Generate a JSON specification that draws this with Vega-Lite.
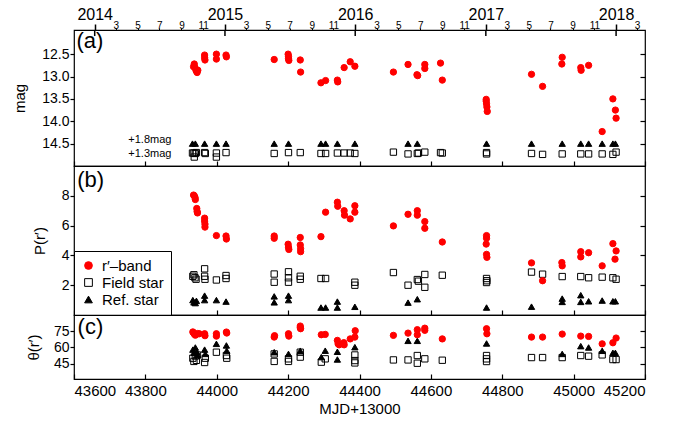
{
"$schema": "https://vega.github.io/schema/vega-lite/v6.json",
"background": "white",
"padding": {"left": 11, "top": 5, "right": 5, "bottom": 5},
"spacing": 0,
"bounds": "flush",
"config": {
  "font": "Liberation Sans",
  "view": {"stroke": "black", "strokeWidth": 1.2},
  "axis": {"domain": false, "grid": false, "tickColor": "black", "labelColor": "black", "titleColor": "black", "labelFontSize": 14, "titleFontSize": 15, "titleFontWeight": "normal", "tickWidth": 1.2},
  "point": {"opacity": 1},
  "text": {"font": "Liberation Sans", "color": "black"}
},
"datasets": {
  "mag": [
    {"t":"Ref. star","x":43932,"y":14.5},{"t":"Ref. star","x":43940,"y":14.5},{"t":"Ref. star","x":43966,"y":14.5},{"t":"Ref. star","x":43999,"y":14.5},{"t":"Ref. star","x":44026,"y":14.5},{"t":"Ref. star","x":44161,"y":14.5},{"t":"Ref. star","x":44201,"y":14.5},{"t":"Ref. star","x":44292,"y":14.5},{"t":"Ref. star","x":44305,"y":14.5},{"t":"Ref. star","x":44338,"y":14.5},{"t":"Ref. star","x":44387,"y":14.5},{"t":"Ref. star","x":44536,"y":14.5},{"t":"Ref. star","x":44562,"y":14.5},{"t":"Ref. star","x":44756,"y":14.5},{"t":"Ref. star","x":44882,"y":14.5},{"t":"Ref. star","x":44968,"y":14.5},{"t":"Ref. star","x":45020,"y":14.5},{"t":"Ref. star","x":45042,"y":14.5},{"t":"Ref. star","x":45080,"y":14.5},{"t":"Ref. star","x":45110,"y":14.5},{"t":"Ref. star","x":45117,"y":14.5},
    {"t":"Field star","x":43932,"y":14.71},{"t":"Field star","x":43936,"y":14.71},{"t":"Field star","x":43940,"y":14.72},{"t":"Field star","x":43943,"y":14.7},{"t":"Field star","x":43937,"y":14.8},{"t":"Field star","x":43966,"y":14.7},{"t":"Field star","x":43968,"y":14.72},{"t":"Field star","x":43999,"y":14.71},{"t":"Field star","x":43999,"y":14.8},{"t":"Field star","x":44026,"y":14.7},{"t":"Field star","x":44161,"y":14.72},{"t":"Field star","x":44201,"y":14.7},{"t":"Field star","x":44234,"y":14.7},{"t":"Field star","x":44292,"y":14.72},{"t":"Field star","x":44305,"y":14.72},{"t":"Field star","x":44338,"y":14.71},{"t":"Field star","x":44357,"y":14.71},{"t":"Field star","x":44374,"y":14.71},{"t":"Field star","x":44387,"y":14.72},
    {"t":"Field star","x":44495,"y":14.69},{"t":"Field star","x":44536,"y":14.73},{"t":"Field star","x":44562,"y":14.72},{"t":"Field star","x":44565,"y":14.71},{"t":"Field star","x":44583,"y":14.69},{"t":"Field star","x":44627,"y":14.7},{"t":"Field star","x":44632,"y":14.71},{"t":"Field star","x":44756,"y":14.7},{"t":"Field star","x":44756,"y":14.73},{"t":"Field star","x":44882,"y":14.72},{"t":"Field star","x":44913,"y":14.74},{"t":"Field star","x":44968,"y":14.73},{"t":"Field star","x":45020,"y":14.73},{"t":"Field star","x":45042,"y":14.73},{"t":"Field star","x":45080,"y":14.73},{"t":"Field star","x":45110,"y":14.74},{"t":"Field star","x":45119,"y":14.69},
    {"t":"r′–band","x":43935,"y":12.78},{"t":"r′–band","x":43937,"y":12.72},{"t":"r′–band","x":43939,"y":12.8},{"t":"r′–band","x":43941,"y":12.84},{"t":"r′–band","x":43943,"y":12.88},{"t":"r′–band","x":43945,"y":12.91},{"t":"r′–band","x":43947,"y":12.86},
    {"t":"r′–band","x":43966,"y":12.52},{"t":"r′–band","x":43966,"y":12.58},{"t":"r′–band","x":43967,"y":12.63},{"t":"r′–band","x":43999,"y":12.5},{"t":"r′–band","x":43999,"y":12.61},{"t":"r′–band","x":44026,"y":12.52},{"t":"r′–band","x":44027,"y":12.56},
    {"t":"r′–band","x":44161,"y":12.62},{"t":"r′–band","x":44200,"y":12.5},{"t":"r′–band","x":44201,"y":12.55},{"t":"r′–band","x":44201,"y":12.6},{"t":"r′–band","x":44202,"y":12.64},{"t":"r′–band","x":44234,"y":12.63},{"t":"r′–band","x":44235,"y":12.9},
    {"t":"r′–band","x":44292,"y":13.14},{"t":"r′–band","x":44305,"y":13.09},{"t":"r′–band","x":44338,"y":13.08},{"t":"r′–band","x":44339,"y":13.12},{"t":"r′–band","x":44357,"y":12.8},{"t":"r′–band","x":44374,"y":12.67},{"t":"r′–band","x":44387,"y":12.77},
    {"t":"r′–band","x":44495,"y":12.9},{"t":"r′–band","x":44536,"y":12.73},{"t":"r′–band","x":44561,"y":12.96},{"t":"r′–band","x":44563,"y":12.98},{"t":"r′–band","x":44583,"y":12.73},{"t":"r′–band","x":44583,"y":12.82},{"t":"r′–band","x":44627,"y":12.7},{"t":"r′–band","x":44632,"y":13.08},
    {"t":"r′–band","x":44755,"y":13.51},{"t":"r′–band","x":44755,"y":13.55},{"t":"r′–band","x":44756,"y":13.61},{"t":"r′–band","x":44757,"y":13.68},{"t":"r′–band","x":44758,"y":13.78},
    {"t":"r′–band","x":44882,"y":12.95},{"t":"r′–band","x":44913,"y":13.22},{"t":"r′–band","x":44968,"y":12.57},{"t":"r′–band","x":44967,"y":12.72},{"t":"r′–band","x":45020,"y":12.8},{"t":"r′–band","x":45021,"y":12.86},{"t":"r′–band","x":45042,"y":12.75},{"t":"r′–band","x":45080,"y":14.23},{"t":"r′–band","x":45110,"y":13.5},{"t":"r′–band","x":45117,"y":13.75},{"t":"r′–band","x":45119,"y":13.93}
  ],
  "pol": [
    {"t":"Ref. star","x":43933,"y":1.0},{"t":"Ref. star","x":43936,"y":0.85},{"t":"Ref. star","x":43940,"y":0.8},{"t":"Ref. star","x":43943,"y":0.95},{"t":"Ref. star","x":43966,"y":1.3},{"t":"Ref. star","x":43966,"y":1.0},{"t":"Ref. star","x":43999,"y":1.0},{"t":"Ref. star","x":44026,"y":0.9},{"t":"Ref. star","x":44161,"y":1.25},{"t":"Ref. star","x":44161,"y":0.85},{"t":"Ref. star","x":44201,"y":1.3},{"t":"Ref. star","x":44201,"y":1.0},{"t":"Ref. star","x":44292,"y":0.5},{"t":"Ref. star","x":44305,"y":0.5},{"t":"Ref. star","x":44338,"y":0.9},{"t":"Ref. star","x":44338,"y":0.5},{"t":"Ref. star","x":44387,"y":0.55},
    {"t":"Ref. star","x":44536,"y":0.83},{"t":"Ref. star","x":44562,"y":1.06},{"t":"Ref. star","x":44756,"y":0.5},{"t":"Ref. star","x":44882,"y":0.56},{"t":"Ref. star","x":44968,"y":1.1},{"t":"Ref. star","x":44968,"y":0.88},{"t":"Ref. star","x":45020,"y":1.33},{"t":"Ref. star","x":45020,"y":0.88},{"t":"Ref. star","x":45042,"y":0.92},{"t":"Ref. star","x":45080,"y":0.97},{"t":"Ref. star","x":45110,"y":0.92},{"t":"Ref. star","x":45117,"y":0.92},
    {"t":"Field star","x":43933,"y":2.6},{"t":"Field star","x":43936,"y":2.7},{"t":"Field star","x":43939,"y":2.5},{"t":"Field star","x":43942,"y":2.4},{"t":"Field star","x":43966,"y":3.1},{"t":"Field star","x":43966,"y":2.6},{"t":"Field star","x":43967,"y":2.4},{"t":"Field star","x":43999,"y":2.35},{"t":"Field star","x":44026,"y":2.65},{"t":"Field star","x":44026,"y":2.45},{"t":"Field star","x":44161,"y":2.75},{"t":"Field star","x":44161,"y":2.2},{"t":"Field star","x":44201,"y":2.9},{"t":"Field star","x":44201,"y":2.5},{"t":"Field star","x":44201,"y":2.2},{"t":"Field star","x":44234,"y":2.6},{"t":"Field star","x":44234,"y":2.4},{"t":"Field star","x":44292,"y":2.45},{"t":"Field star","x":44305,"y":2.45},{"t":"Field star","x":44387,"y":2.2},{"t":"Field star","x":44387,"y":2.0},
    {"t":"Field star","x":44495,"y":2.85},{"t":"Field star","x":44536,"y":2.0},{"t":"Field star","x":44562,"y":2.38},{"t":"Field star","x":44565,"y":2.27},{"t":"Field star","x":44583,"y":2.72},{"t":"Field star","x":44583,"y":1.86},{"t":"Field star","x":44632,"y":2.67},{"t":"Field star","x":44756,"y":2.45},{"t":"Field star","x":44757,"y":2.3},{"t":"Field star","x":44756,"y":2.18},{"t":"Field star","x":44882,"y":2.88},{"t":"Field star","x":44913,"y":2.74},{"t":"Field star","x":44968,"y":2.58},{"t":"Field star","x":45020,"y":2.58},{"t":"Field star","x":45042,"y":2.5},{"t":"Field star","x":45080,"y":2.54},{"t":"Field star","x":45110,"y":2.5},{"t":"Field star","x":45119,"y":2.4},
    {"t":"r′–band","x":43935,"y":8.05},{"t":"r′–band","x":43937,"y":8.0},{"t":"r′–band","x":43939,"y":7.9},{"t":"r′–band","x":43940,"y":7.75},{"t":"r′–band","x":43944,"y":7.15},{"t":"r′–band","x":43945,"y":6.95},{"t":"r′–band","x":43946,"y":6.85},
    {"t":"r′–band","x":43966,"y":6.5},{"t":"r′–band","x":43966,"y":6.3},{"t":"r′–band","x":43967,"y":6.1},{"t":"r′–band","x":43967,"y":5.9},{"t":"r′–band","x":43999,"y":5.33},{"t":"r′–band","x":44026,"y":5.3},{"t":"r′–band","x":44027,"y":5.1},
    {"t":"r′–band","x":44161,"y":5.3},{"t":"r′–band","x":44161,"y":5.15},{"t":"r′–band","x":44200,"y":4.75},{"t":"r′–band","x":44201,"y":4.55},{"t":"r′–band","x":44202,"y":4.4},{"t":"r′–band","x":44234,"y":5.2},{"t":"r′–band","x":44234,"y":4.7},{"t":"r′–band","x":44235,"y":4.45},{"t":"r′–band","x":44235,"y":4.25},
    {"t":"r′–band","x":44292,"y":5.26},{"t":"r′–band","x":44305,"y":6.9},{"t":"r′–band","x":44338,"y":7.57},{"t":"r′–band","x":44339,"y":7.3},{"t":"r′–band","x":44357,"y":7.0},{"t":"r′–band","x":44358,"y":6.7},{"t":"r′–band","x":44374,"y":6.45},{"t":"r′–band","x":44387,"y":7.33},{"t":"r′–band","x":44387,"y":6.9},
    {"t":"r′–band","x":44495,"y":5.98},{"t":"r′–band","x":44536,"y":6.76},{"t":"r′–band","x":44562,"y":7.0},{"t":"r′–band","x":44562,"y":6.7},{"t":"r′–band","x":44583,"y":6.27},{"t":"r′–band","x":44583,"y":5.82},{"t":"r′–band","x":44632,"y":4.9},
    {"t":"r′–band","x":44756,"y":5.33},{"t":"r′–band","x":44756,"y":5.15},{"t":"r′–band","x":44755,"y":4.76},{"t":"r′–band","x":44756,"y":4.07},{"t":"r′–band","x":44757,"y":3.87},
    {"t":"r′–band","x":44882,"y":3.5},{"t":"r′–band","x":44913,"y":2.3},{"t":"r′–band","x":44967,"y":3.52},{"t":"r′–band","x":44968,"y":3.3},{"t":"r′–band","x":45020,"y":4.25},{"t":"r′–band","x":45020,"y":3.9},{"t":"r′–band","x":45042,"y":4.18},{"t":"r′–band","x":45080,"y":3.3},{"t":"r′–band","x":45110,"y":4.79},{"t":"r′–band","x":45119,"y":4.3},{"t":"r′–band","x":45116,"y":3.75}
  ],
  "ang": [
    {"t":"Ref. star","x":43933,"y":58},{"t":"Ref. star","x":43936,"y":55},{"t":"Ref. star","x":43940,"y":60},{"t":"Ref. star","x":43944,"y":56},{"t":"Ref. star","x":43947,"y":53},{"t":"Ref. star","x":43966,"y":58},{"t":"Ref. star","x":43968,"y":54},{"t":"Ref. star","x":43999,"y":63.4},{"t":"Ref. star","x":44027,"y":61.9},{"t":"Ref. star","x":44028,"y":57},{"t":"Ref. star","x":44161,"y":55.6},{"t":"Ref. star","x":44201,"y":54},{"t":"Ref. star","x":44234,"y":57},{"t":"Ref. star","x":44293,"y":51},{"t":"Ref. star","x":44304,"y":57},{"t":"Ref. star","x":44338,"y":56},{"t":"Ref. star","x":44338,"y":48.8},{"t":"Ref. star","x":44387,"y":60.3},
    {"t":"Ref. star","x":44536,"y":66.2},{"t":"Ref. star","x":44562,"y":66.2},{"t":"Ref. star","x":44756,"y":63.75},{"t":"Ref. star","x":44968,"y":54},{"t":"Ref. star","x":45020,"y":61.25},{"t":"Ref. star","x":45042,"y":60},{"t":"Ref. star","x":45080,"y":56.9},{"t":"Ref. star","x":45110,"y":55},{"t":"Ref. star","x":45117,"y":55},
    {"t":"Field star","x":43933,"y":50},{"t":"Field star","x":43936,"y":47},{"t":"Field star","x":43940,"y":52},{"t":"Field star","x":43943,"y":48},{"t":"Field star","x":43946,"y":53},{"t":"Field star","x":43966,"y":46},{"t":"Field star","x":43968,"y":50},{"t":"Field star","x":43999,"y":55.6},{"t":"Field star","x":44027,"y":52.5},{"t":"Field star","x":44028,"y":50},{"t":"Field star","x":44161,"y":54},{"t":"Field star","x":44161,"y":47},{"t":"Field star","x":44201,"y":49.4},{"t":"Field star","x":44201,"y":47},{"t":"Field star","x":44234,"y":55.6},{"t":"Field star","x":44234,"y":51},{"t":"Field star","x":44293,"y":46.3},{"t":"Field star","x":44304,"y":49.4},{"t":"Field star","x":44387,"y":53},{"t":"Field star","x":44387,"y":47.8},{"t":"Field star","x":44387,"y":45.6},
    {"t":"Field star","x":44495,"y":48.4},{"t":"Field star","x":44536,"y":48.4},{"t":"Field star","x":44562,"y":52.5},{"t":"Field star","x":44562,"y":45.3},{"t":"Field star","x":44583,"y":49.4},{"t":"Field star","x":44632,"y":48.1},{"t":"Field star","x":44756,"y":52.5},{"t":"Field star","x":44756,"y":49.4},{"t":"Field star","x":44756,"y":46.9},{"t":"Field star","x":44882,"y":50.6},{"t":"Field star","x":44913,"y":50.6},{"t":"Field star","x":44968,"y":50.6},{"t":"Field star","x":45020,"y":52.5},{"t":"Field star","x":45042,"y":51.9},{"t":"Field star","x":45080,"y":53.1},{"t":"Field star","x":45110,"y":48.75},{"t":"Field star","x":45119,"y":48.75},
    {"t":"r′–band","x":43933,"y":74.5},{"t":"r′–band","x":43935,"y":73.7},{"t":"r′–band","x":43937,"y":72.5},{"t":"r′–band","x":43940,"y":71.5},{"t":"r′–band","x":43942,"y":72.2},{"t":"r′–band","x":43946,"y":73},{"t":"r′–band","x":43951,"y":72.8},{"t":"r′–band","x":43966,"y":72.8},{"t":"r′–band","x":43967,"y":71},{"t":"r′–band","x":43999,"y":72.8},{"t":"r′–band","x":43999,"y":70.6},{"t":"r′–band","x":44027,"y":74.4},{"t":"r′–band","x":44028,"y":73.5},
    {"t":"r′–band","x":44161,"y":69.7},{"t":"r′–band","x":44162,"y":71},{"t":"r′–band","x":44201,"y":72.8},{"t":"r′–band","x":44202,"y":70.6},{"t":"r′–band","x":44234,"y":80},{"t":"r′–band","x":44234,"y":78.5},{"t":"r′–band","x":44235,"y":77.5},
    {"t":"r′–band","x":44293,"y":71.9},{"t":"r′–band","x":44304,"y":72.2},{"t":"r′–band","x":44338,"y":66.6},{"t":"r′–band","x":44340,"y":63.4},{"t":"r′–band","x":44343,"y":62.5},{"t":"r′–band","x":44357,"y":62.5},{"t":"r′–band","x":44356,"y":64.5},{"t":"r′–band","x":44374,"y":68},{"t":"r′–band","x":44387,"y":69.7},{"t":"r′–band","x":44388,"y":75.6},
    {"t":"r′–band","x":44495,"y":71.3},{"t":"r′–band","x":44536,"y":73.4},{"t":"r′–band","x":44562,"y":76.6},{"t":"r′–band","x":44562,"y":71.9},{"t":"r′–band","x":44583,"y":78},{"t":"r′–band","x":44583,"y":76},{"t":"r′–band","x":44632,"y":68},{"t":"r′–band","x":44756,"y":77.5},{"t":"r′–band","x":44757,"y":72.8},
    {"t":"r′–band","x":44882,"y":69.7},{"t":"r′–band","x":44913,"y":69.7},{"t":"r′–band","x":44968,"y":72.5},{"t":"r′–band","x":45020,"y":70.6},{"t":"r′–band","x":45042,"y":70.3},{"t":"r′–band","x":45080,"y":63.4},{"t":"r′–band","x":45110,"y":64.4},{"t":"r′–band","x":45119,"y":68.8}
  ]
},
"resolve": {"scale": {"shape": "independent", "fill": "independent", "stroke": "independent"}},
"vconcat": [
  {
    "width": 571, "height": 136,
    "resolve": {"scale": {"x": "independent", "y": "independent"}},
    "layer": [
      {
        "data": {"name": "mag"},
        "mark": {"type": "point", "size": 40, "strokeWidth": 1, "opacity": 1},
        "encoding": {
          "x": {"field": "x", "type": "quantitative", "scale": {"domain": [43600, 45200], "nice": false, "zero": false},
                "axis": {"orient": "bottom", "values": [43600,43800,44000,44200,44400,44600,44800,45000,45200], "labels": false, "tickSize": -5, "title": null}},
          "y": {"field": "y", "type": "quantitative", "scale": {"domain": [11.96, 15.0], "reverse": true, "nice": false, "zero": false},
                "axis": {"orient": "left", "values": [12.5,13,13.5,14,14.5], "format": ".1f", "tickSize": 4, "labelPadding": 1, "title": "mag", "titleX": -55, "titleBaseline": "middle"}},
          "shape": {"field": "t", "type": "nominal", "scale": {"domain": ["r′–band","Field star","Ref. star"], "range": ["circle","square","triangle-up"]}, "legend": null},
          "fill": {"field": "t", "type": "nominal", "scale": {"domain": ["r′–band","Field star","Ref. star"], "range": ["#ff0000","transparent","#000000"]}, "legend": null},
          "stroke": {"field": "t", "type": "nominal", "scale": {"domain": ["r′–band","Field star","Ref. star"], "range": ["#ff0000","#000000","#000000"]}, "legend": null}
        }
      },
      {
        "data": {"values": [{"lab": "+1.8mag", "m": 14.42}, {"lab": "+1.3mag", "m": 14.74}]},
        "mark": {"type": "text", "align": "right", "baseline": "middle", "fontSize": 11},
        "encoding": {
          "x": {"datum": 43873, "type": "quantitative", "scale": {"domain": [43600, 45200], "nice": false, "zero": false}, "axis": null},
          "y": {"field": "m", "type": "quantitative", "scale": {"domain": [11.96, 15.0], "reverse": true, "nice": false, "zero": false}, "axis": null},
          "text": {"field": "lab"}
        }
      },
      {
        "data": {"values": [{"yr": 43658}, {"yr": 44023}, {"yr": 44388}, {"yr": 44754}, {"yr": 45119}]},
        "mark": {"type": "rule", "color": "black", "strokeWidth": 1.5},
        "encoding": {
          "x": {"field": "yr", "type": "quantitative", "scale": {"domain": [43600, 45200], "nice": false, "zero": false}, "axis": null},
          "y": {"datum": 11.96, "type": "quantitative", "scale": {"domain": [11.96, 15.0], "reverse": true, "nice": false, "zero": false}, "axis": null},
          "y2": {"datum": 12.095}
        }
      },
      {
        "data": {"values": [{"lab": "(a)"}]},
        "mark": {"type": "text", "align": "left", "baseline": "top", "fontSize": 22},
        "encoding": {
          "text": {"field": "lab"},
          "x": {"datum": 43607, "type": "quantitative", "scale": {"domain": [43600, 45200], "nice": false, "zero": false},
                "axis": {"orient": "top", "title": null,
                  "values": [43658,43717,43778,43839,43901,43962,44023,44082,44143,44204,44266,44327,44388,44448,44509,44570,44632,44693,44754,44813,44874,44935,44997,45058,45119,45178],
                  "labelExpr": "['2014','3','5','7','9','11','2015','3','5','7','9','11','2016','3','5','7','9','11','2017','3','5','7','9','11','2018','3'][indexof([43658,43717,43778,43839,43901,43962,44023,44082,44143,44204,44266,44327,44388,44448,44509,44570,44632,44693,44754,44813,44874,44935,44997,45058,45119,45178], datum.value)]",
                  "tickSize": {"condition": {"test": "indexof([43658,44023,44388,44754,45119], datum.value) >= 0", "value": 6}, "value": 2},
                  "tickWidth": {"condition": {"test": "indexof([43658,44023,44388,44754,45119], datum.value) >= 0", "value": 1.5}, "value": 1},
                  "labelFontSize": {"condition": {"test": "indexof([43658,44023,44388,44754,45119], datum.value) >= 0", "value": 16}, "value": 10},
                  "labelPadding": {"condition": {"test": "indexof([43658,44023,44388,44754,45119], datum.value) >= 0", "value": 1.5}, "value": -2.5},
                  "labelFlush": false, "labelOverlap": false}},
          "y": {"datum": 11.99, "type": "quantitative", "scale": {"domain": [11.96, 15.0], "reverse": true, "nice": false, "zero": false},
                "axis": {"orient": "right", "values": [12.5,13,13.5,14,14.5], "labels": false, "tickSize": -5, "title": null}}
        }
      }
    ]
  },
  {
    "width": 571, "height": 149,
    "resolve": {"scale": {"x": "independent", "y": "independent"}},
    "layer": [
      {
        "data": {"name": "pol"},
        "mark": {"type": "point", "size": 40, "strokeWidth": 1, "opacity": 1},
        "encoding": {
          "x": {"field": "x", "type": "quantitative", "scale": {"domain": [43600, 45200], "nice": false, "zero": false},
                "axis": {"orient": "bottom", "values": [43600,43800,44000,44200,44400,44600,44800,45000,45200], "labels": false, "tickSize": -5, "title": null}},
          "y": {"field": "y", "type": "quantitative", "scale": {"domain": [0, 10], "nice": false, "zero": false},
                "axis": {"orient": "left", "values": [2,4,6,8], "tickSize": 4, "labelPadding": 1, "title": "P(r′)", "titleX": -35, "titleBaseline": "middle"}},
          "shape": {"field": "t", "type": "nominal", "scale": {"domain": ["r′–band","Field star","Ref. star"], "range": ["circle","square","triangle-up"]},
                    "legend": {"orient": "bottom-left", "offset": 0, "title": null, "strokeColor": "black", "fillColor": "white", "padding": 7, "labelFontSize": 15, "symbolSize": 60, "rowPadding": 1, "labelOffset": 6, "symbolStrokeWidth": 1, "symbolOpacity": 1, "labelColor": "black"}},
          "fill": {"field": "t", "type": "nominal", "scale": {"domain": ["r′–band","Field star","Ref. star"], "range": ["#ff0000","transparent","#000000"]},
                    "legend": {"orient": "bottom-left", "offset": 0, "title": null, "strokeColor": "black", "fillColor": "white", "padding": 7, "labelFontSize": 15, "symbolSize": 60, "rowPadding": 1, "labelOffset": 6, "symbolStrokeWidth": 1, "symbolOpacity": 1, "labelColor": "black"}},
          "stroke": {"field": "t", "type": "nominal", "scale": {"domain": ["r′–band","Field star","Ref. star"], "range": ["#ff0000","#000000","#000000"]},
                    "legend": {"orient": "bottom-left", "offset": 0, "title": null, "strokeColor": "black", "fillColor": "white", "padding": 7, "labelFontSize": 15, "symbolSize": 60, "rowPadding": 1, "labelOffset": 6, "symbolStrokeWidth": 1, "symbolOpacity": 1, "labelColor": "black"}}
        }
      },
      {
        "data": {"values": [{"lab": "(b)"}]},
        "mark": {"type": "text", "align": "left", "baseline": "top", "fontSize": 22},
        "encoding": {
          "text": {"field": "lab"},
          "x": {"datum": 43609, "type": "quantitative", "scale": {"domain": [43600, 45200], "nice": false, "zero": false}, "axis": null},
          "y": {"datum": 9.75, "type": "quantitative", "scale": {"domain": [0, 10], "nice": false, "zero": false},
                "axis": {"orient": "right", "values": [2,4,6,8], "labels": false, "tickSize": -5, "title": null}}
        }
      }
    ]
  },
  {
    "width": 571, "height": 64,
    "resolve": {"scale": {"x": "independent", "y": "independent"}},
    "layer": [
      {
        "data": {"name": "ang"},
        "mark": {"type": "point", "size": 40, "strokeWidth": 1, "opacity": 1},
        "encoding": {
          "x": {"field": "x", "type": "quantitative", "scale": {"domain": [43600, 45200], "nice": false, "zero": false},
                "axis": {"orient": "bottom", "values": [43600,43800,44000,44200,44400,44600,44800,45000,45200], "format": "d", "tickSize": -5, "labelPadding": 9, "labelFontSize": 15, "title": "MJD+13000", "titlePadding": 3}},
          "y": {"field": "y", "type": "quantitative", "scale": {"domain": [30.6, 90.3], "nice": false, "zero": false},
                "axis": {"orient": "left", "values": [45,60,75], "tickSize": 4, "labelPadding": 1, "title": "θ(r′)", "titleX": -41, "titleBaseline": "middle"}},
          "shape": {"field": "t", "type": "nominal", "scale": {"domain": ["r′–band","Field star","Ref. star"], "range": ["circle","square","triangle-up"]}, "legend": null},
          "fill": {"field": "t", "type": "nominal", "scale": {"domain": ["r′–band","Field star","Ref. star"], "range": ["#ff0000","transparent","#000000"]}, "legend": null},
          "stroke": {"field": "t", "type": "nominal", "scale": {"domain": ["r′–band","Field star","Ref. star"], "range": ["#ff0000","#000000","#000000"]}, "legend": null}
        }
      },
      {
        "data": {"values": [{"lab": "(c)"}]},
        "mark": {"type": "text", "align": "left", "baseline": "top", "fontSize": 22},
        "encoding": {
          "text": {"field": "lab"},
          "x": {"datum": 43610, "type": "quantitative", "scale": {"domain": [43600, 45200], "nice": false, "zero": false}, "axis": null},
          "y": {"datum": 88.5, "type": "quantitative", "scale": {"domain": [30.6, 90.3], "nice": false, "zero": false},
                "axis": {"orient": "right", "values": [45,60,75], "labels": false, "tickSize": -5, "title": null}}
        }
      }
    ]
  }
]
}
